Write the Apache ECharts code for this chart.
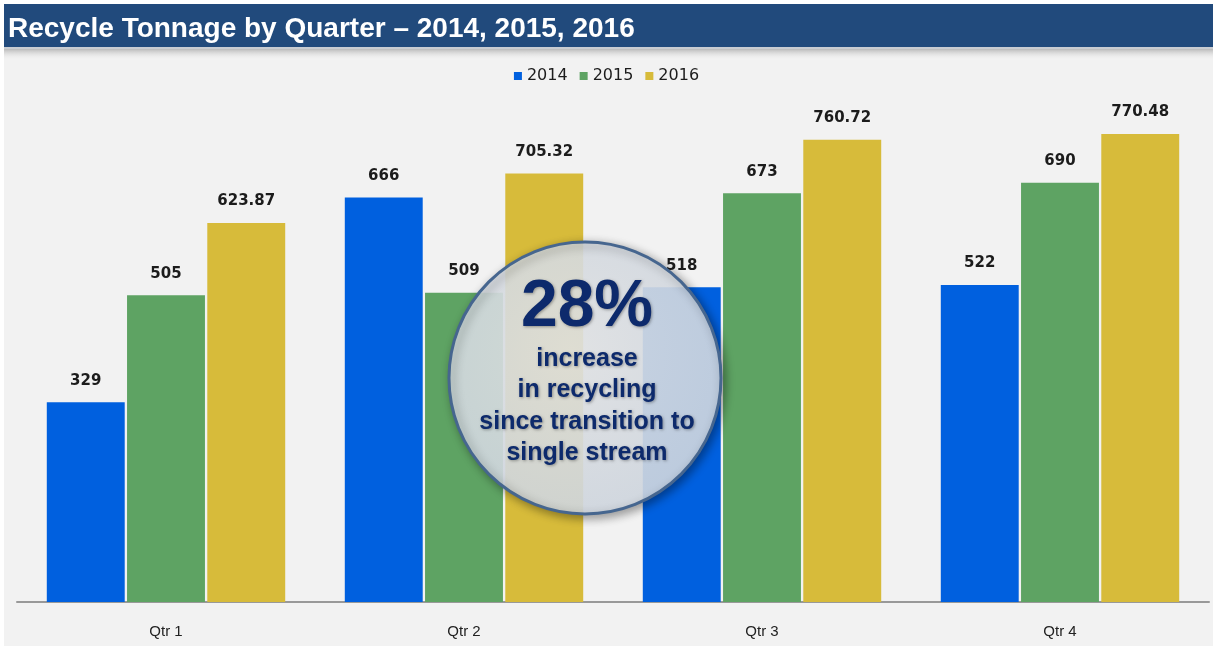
<!DOCTYPE html>
<html>
<head>
<meta charset="utf-8">
<script src="https://cdn.jsdelivr.net/npm/echarts@6/dist/echarts.min.js"></script>
<style>
  html, body { margin: 0; padding: 0; background: #ffffff; }
  #chart { width: 1213px; height: 649px; }
</style>
</head>
<body>
<div id="chart"></div>
<script>
  // chart data
  var quarters = ['Qtr 1', 'Qtr 2', 'Qtr 3', 'Qtr 4'];
  var years = ['2014', '2015', '2016'];
  var tons2014 = [329, 666, 518, 522];
  var tons2015 = [505, 509, 673, 690];
  var tons2016 = [623.87, 705.32, 760.72, 770.48];
  var calloutLines = ['increase', 'in recycling', 'since transition to', 'single stream'];

  var colors = ['#0060df', '#5ea363', '#d7bb3a'];
  var labelFont = { show: true, position: 'top', distance: 14, color: '#1c1c1c',
    fontFamily: 'DejaVu Sans', fontWeight: 'bold', fontSize: 15 };

  var myChart = echarts.init(document.getElementById('chart'));

  var makeSeries = function (name, data) {
    return {
      name: name,
      type: 'bar',
      data: data,
      barGap: '3%',
      barCategoryGap: '20%',
      label: labelFont
    };
  };

  var textShadow = { textShadowColor: 'rgba(0,0,0,0.35)', textShadowBlur: 3, textShadowOffsetX: 1, textShadowOffsetY: 1 };

  var graphics = [
    // panel + title bar
    { type: 'rect', z: -10, silent: true, shape: { x: 4, y: 48, width: 1209, height: 598 }, style: { fill: '#f2f2f2' } },
    { type: 'rect', z: -9, silent: true, shape: { x: 4, y: 48, width: 1209, height: 12 },
      style: { fill: new echarts.graphic.LinearGradient(0, 0, 0, 1, [
        { offset: 0, color: 'rgba(120,120,120,0.55)' }, { offset: 1, color: 'rgba(242,242,242,0)' }]) } },
    { type: 'rect', z: -8, silent: true, shape: { x: 4, y: 4, width: 1209, height: 44 }, style: { fill: '#214a7c' } },
    { type: 'rect', z: -8, silent: true, shape: { x: 4, y: 47, width: 1209, height: 2 }, style: { fill: '#c8ccd2' } },
    { type: 'text', z: 5, left: 8, top: 15,
      style: { text: 'Recycle Tonnage by Quarter \u2013 2014, 2015, 2016', fill: '#ffffff',
        font: 'bold 28px "Liberation Sans", Arial, sans-serif' } },
    // callout circle
    { type: 'circle', z: 20, silent: true, shape: { cx: 585, cy: 378, r: 136 },
      style: {
        fill: new echarts.graphic.RadialGradient(0.45, 0.4, 0.7, [
          { offset: 0, color: 'rgba(236,238,240,0.85)' },
          { offset: 1, color: 'rgba(214,222,232,0.87)' }]),
        stroke: '#46668f', lineWidth: 3,
        shadowColor: 'rgba(0,0,0,0.4)', shadowBlur: 10, shadowOffsetX: 3, shadowOffsetY: 3 } },
    { type: 'text', z: 21, silent: true, x: 587, y: 308,
      style: Object.assign({ text: '28%', fill: '#0d2a6c', align: 'center', verticalAlign: 'middle',
        font: 'bold 66px "Liberation Sans", Arial, sans-serif' }, textShadow) }
  ];
  for (var i = 0; i < calloutLines.length; i++) {
    graphics.push({ type: 'text', z: 21, silent: true, x: 587, y: 359 + i * 31.5,
      style: Object.assign({ text: calloutLines[i], fill: '#0d2a6c', align: 'center', verticalAlign: 'middle',
        font: 'bold 25px "Liberation Sans", Arial, sans-serif' }, textShadow) });
  }

  var option = {
    backgroundColor: '#ffffff',
    color: colors,
    animation: false,
    legend: {
      top: 63,
      left: 'center',
      itemWidth: 8,
      itemHeight: 8,
      itemGap: 12,
      icon: 'rect',
      textStyle: { color: '#1c1c1c', fontFamily: 'DejaVu Sans', fontSize: 16 },
      data: years
    },
    grid: { left: 17, right: 4, top: 116, bottom: 47 },
    xAxis: {
      type: 'category',
      data: quarters,
      axisTick: { show: false },
      axisLine: { lineStyle: { color: '#999999', width: 2 } },
      axisLabel: { margin: 22, color: '#222222', fontFamily: 'Liberation Sans', fontSize: 15 }
    },
    yAxis: { type: 'value', min: 0, max: 800, show: false, splitLine: { show: false } },
    series: [
      makeSeries(years[0], tons2014),
      makeSeries(years[1], tons2015),
      makeSeries(years[2], tons2016)
    ],
    graphic: graphics
  };

  myChart.setOption(option);
</script>
</body>
</html>
